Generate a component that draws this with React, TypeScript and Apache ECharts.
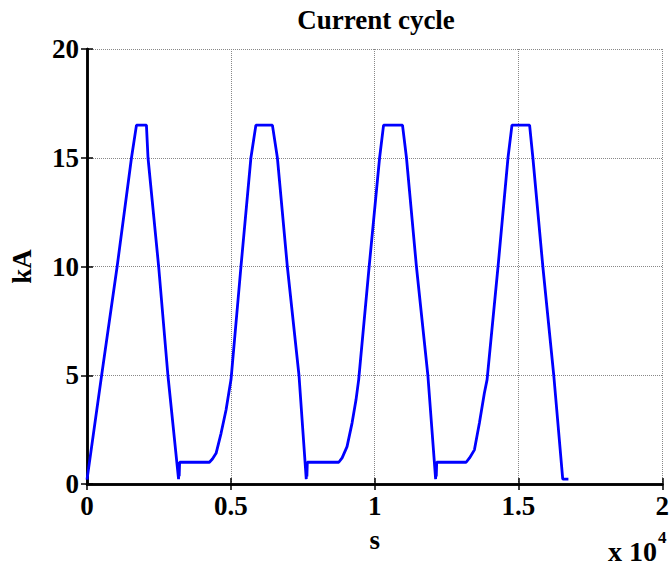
import React, { useEffect, useRef } from "react";
import * as echarts from "echarts";

// Time (s) and current (kA)
const timeS = [
  0, 509, 1048, 1547, 1720, 2066, 2121, 2491, 2813, 3183, 3195, 3205, 3220,
  4256, 4360, 4488, 4661, 4834, 4948, 5007, 5353, 5699, 5872, 6446, 6619, 6965,
  7370, 7623, 7635, 7645, 7660, 8754, 8870, 9041, 9215, 9353, 9446, 9810, 10173,
  10311, 10969, 11107, 11453, 11851, 12121, 12133, 12143, 12158, 13183, 13300,
  13470, 13643, 13816, 13910, 14291, 14637, 14775, 15388, 15502, 15848, 16228,
  16540, 16737,
];
const currentKA = [
  0.2, 5, 10, 15, 16.5, 16.5, 15, 10, 5, 0.22, 1.0, 0.35, 1.0,
  1.0, 1.15, 1.41, 2.33, 3.4, 4.33, 4.8, 10, 15, 16.5, 16.5, 15, 10,
  5, 0.22, 1.0, 0.35, 1.0, 1.0, 1.2, 1.72, 2.8, 3.87, 4.8, 10, 15,
  16.5, 16.5, 15, 10, 5, 0.22, 1.0, 0.35, 1.0, 1.0, 1.2,
  1.57, 2.8, 4.18, 4.8, 10, 15, 16.5, 16.5, 15, 10, 5,
  0.22, 0.22,
];
const xTickLabels = ["0", "0.5", "1", "1.5", "2"];
const yTickLabels = ["0", "5", "10", "15", "20"];
const titleText = "Current cycle";
const xName = "s";
const yName = "kA";

const FONT = '"Liberation Serif", "Times New Roman", serif';

export default function App() {
  const ref = useRef<HTMLDivElement>(null);
  useEffect(() => {
    if (!ref.current) return;
    const chart = echarts.init(ref.current, undefined, { renderer: "svg" });
    const data = timeS.map((t, i) => [t, currentKA[i]]);
    const axisLine = { show: true, lineStyle: { color: "#000", width: 2.5 } };
    const tick = { show: true, inside: true, length: 6, lineStyle: { color: "#000", width: 1.5 } };
    const grid = { show: true, type: "dotted", color: "#888", width: 1 };
    chart.setOption({
      animation: false,
      backgroundColor: "#fff",
      grid: { left: 87, right: 7, top: 49, bottom: 82, containLabel: false },
      xAxis: [
        {
          type: "value",
          min: 0,
          max: 20000,
          interval: 5000,
          position: "bottom",
          axisLine,
          axisTick: tick,
          splitLine: { show: true, lineStyle: grid },
          axisLabel: {
            formatter: (v: number) => xTickLabels[Math.round(v / 5000)] ?? "",
            color: "#000",
            fontFamily: FONT,
            fontWeight: "bold",
            fontSize: 27,
            margin: 8,
          },
          name: xName,
          nameLocation: "middle",
          nameGap: 42,
          nameTextStyle: { color: "#000", fontFamily: FONT, fontWeight: "bold", fontSize: 27 },
        },
        {
          type: "value",
          min: 0,
          max: 20000,
          interval: 5000,
          position: "top",
          axisLine,
          axisTick: tick,
          splitLine: { show: false },
          axisLabel: { show: false },
        },
      ],
      yAxis: [
        {
          type: "value",
          min: 0,
          max: 20,
          interval: 5,
          position: "left",
          axisLine,
          axisTick: tick,
          splitLine: { show: true, lineStyle: grid },
          axisLabel: {
            formatter: (v: number) => yTickLabels[Math.round(v / 5)] ?? "",
            color: "#000",
            fontFamily: FONT,
            fontWeight: "bold",
            fontSize: 27,
            margin: 8,
          },
          name: yName,
          nameLocation: "middle",
          nameGap: 52,
          nameRotate: 90,
          nameTextStyle: { color: "#000", fontFamily: FONT, fontWeight: "bold", fontSize: 27 },
        },
        {
          type: "value",
          min: 0,
          max: 20,
          interval: 5,
          position: "right",
          axisLine,
          axisTick: tick,
          splitLine: { show: false },
          axisLabel: { show: false },
        },
      ],
      series: [
        {
          type: "line",
          data,
          showSymbol: false,
          symbol: "none",
          lineStyle: { color: "#0000ff", width: 2.8 },
          z: 3,
        },
      ],
      graphic: [
        {
          type: "text",
          x: 376,
          y: 20,
          style: {
            text: titleText,
            font: `bold 27px ${FONT}`,
            fill: "#000",
            textAlign: "center",
            textVerticalAlign: "middle",
          },
        },
        {
          type: "text",
          x: 657,
          y: 551,
          style: {
            text: "x 10",
            font: `bold 28px ${FONT}`,
            fill: "#000",
            textAlign: "right",
            textVerticalAlign: "middle",
          },
        },
        {
          type: "text",
          x: 658,
          y: 537,
          style: {
            text: "4",
            font: `bold 17px ${FONT}`,
            fill: "#000",
            textAlign: "left",
            textVerticalAlign: "middle",
          },
        },
      ],
    });
    return () => chart.dispose();
  }, []);
  return (
    <div
      ref={ref}
      style={{ position: "fixed", left: 0, top: 0, width: 672, height: 566 }}
    />
  );
}
